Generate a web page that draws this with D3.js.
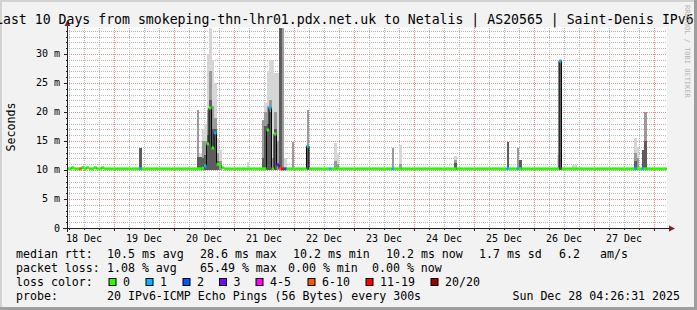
<!DOCTYPE html>
<html><head><meta charset="utf-8">
<script src="https://cdn.jsdelivr.net/npm/d3@7"></script>
<style>
html,body{margin:0;padding:0;background:#f2f2f2;}
svg{display:block;}
text{font-family:"DejaVu Sans Mono",monospace;fill:#000;}
</style></head><body>
<svg id="chart" width="697" height="310"></svg>
<script>
// ---------------- data ----------------
const chartTitle = "Last 10 Days from smokeping-thn-lhr01.pdx.net.uk to Netalis | AS20565 | Saint-Denis IPv6";
const yAxisTitle = "Seconds";
const watermark = "RRDTOOL / TOBI OETIKER";
const timeStart = "2025-12-18T05:12:00Z";
const timeEnd   = "2025-12-28T05:12:00Z";
const binOrigin = "2025-12-18T00:00:00Z";   // hourly RRD bins counted from here
const dayLabels = ["18 Dec","19 Dec","20 Dec","21 Dec","22 Dec","23 Dec","24 Dec","25 Dec","26 Dec","27 Dec"];
const yTickValues = [0, 5, 10, 15, 20, 25, 30];
const yTickLabels = ["0", "5 m", "10 m", "15 m", "20 m", "25 m", "30 m"];
const yMax = 34.48;

const baselineMedian = 10.2;   // ms, median rtt outside the listed bins
// hourly bins that differ from the baseline (hour index since binOrigin)
const binHour   = [7, 11, 10, 13, 16, 19, 34, 57, 58, 59, 60, 61, 62, 63, 64, 65, 66, 67, 77, 83, 84, 85, 86, 87, 88, 89, 90, 91, 92, 95, 101, 110, 112, 113, 135, 138, 160, 181, 185, 186, 201, 202, 207, 208, 232, 233, 235, 236];
const binMedian = [10.4, 10.4, 10.2, 10.4, 10.4, 10.4, 10.2, 10.2, 10.2, 10.3, 10.7, 14.5, 20.7, 13.8, 16.4, 11.0, 10.8, 10.4, 10.2, 10.2, 10.2, 16.9, 20.7, 10.2, 16.2, 10.9, 10.2, 10.2, 10.2, 10.2, 14.1, 10.2, 10.2, 10.2, 10.2, 10.2, 10.2, 10.2, 10.2, 10.2, 10.2, 28.8, 10.2, 10.2, 10.2, 10.2, 10.2, 10.2];
const binLoss   = [0, 0, 7, 0, 0, 0, 1, 0, 0, 0, 1, 0, 0, 0, 1, 0, 0, 0, 0, 0, 0, 0, 1, 0, 0, 3, 8, 15, 2, 0, 1, 1, 0, 0, 1, 0, 0, 1, 1, 0, 0, 1, 0, 0, 1, 0, 1, 0];
// smoke (spread of the 20 pings): outer max, middle band top, inner band top (ms)
const smokeMax  = [0, 0, 0, 0, 0, 0, 13.8, 20.3, 12.8, 17.0, 18.0, 30.0, 34.5, 29.0, 25.0, 15.5, 13.5, 0, 11.4, 18.6, 21.5, 27.0, 29.0, 29.0, 26.7, 26.7, 34.5, 34.5, 12.0, 14.9, 20.3, 0, 14.7, 13.0, 13.8, 14.3, 12.4, 14.9, 13.8, 11.7, 12.6, 28.8, 10.9, 10.9, 15.5, 14.0, 13.4, 20.0];
const smokeMid  = [0, 0, 0, 0, 0, 0, 13.8, 20.3, 12.3, 15.0, 15.0, 20.3, 27.0, 21.0, 19.0, 13.0, 11.5, 0, 0, 18.6, 20.0, 21.0, 22.0, 12.0, 20.0, 15.0, 34.5, 34.5, 0, 14.9, 20.3, 0, 11.5, 11.0, 13.8, 11.0, 11.8, 14.9, 13.8, 11.7, 0, 28.8, 0, 0, 13.0, 12.0, 13.4, 20.0];
const smokeDark = [0, 0, 0, 0, 0, 0, 13.8, 12.3, 12.3, 12.0, 12.5, 16.0, 22.0, 17.0, 17.0, 11.5, 0, 0, 0, 12.0, 17.5, 18.0, 20.0, 10.5, 17.0, 0, 34.5, 0, 0, 0, 14.1, 0, 0, 0, 0, 0, 11.2, 14.9, 0, 11.7, 0, 28.8, 0, 0, 11.5, 0, 13.4, 15.0];

const lossLabels  = ["0", "1", "2", "3", "4-5", "6-10", "11-19", "20/20"];
const lossLimits  = [0, 1, 2, 3, 5, 10, 19, 20];
const lossColors  = ["#26ff00", "#00b8ff", "#0059ff", "#7e00ff", "#ff00ff", "#ff5500", "#ff0000", "#a10000"];

const statsRtt  = ["median rtt:", "10.5 ms avg", "28.6 ms max", "10.2 ms min", "10.2 ms now", "1.7 ms sd", "6.2", "am/s"];
const statsLoss = ["packet loss:", "1.08 % avg", "65.49 % max", "0.00 % min", "0.00 % now"];
const lossTitle = "loss color:";
const probeInfo = ["probe:", "20 IPv6-ICMP Echo Pings (56 Bytes) every 300s"];
const stamp = "Sun Dec 28 04:26:31 2025";

// ---------------- drawing ----------------
const W = 697, H = 310;
const P = {left: 67, right: 667, top: 28, bottom: 228};
const svg = d3.select("#chart");

svg.append("rect").attr("width", W).attr("height", H).attr("fill", "#f2f2f2");
svg.append("rect").attr("x", 0).attr("y", 0).attr("width", W).attr("height", 2).attr("fill", "#d2d2d2");
svg.append("rect").attr("x", 0).attr("y", 0).attr("width", 2).attr("height", H).attr("fill", "#d2d2d2");
svg.append("rect").attr("x", W - 3).attr("y", 0).attr("width", 3).attr("height", H).attr("fill", "#9e9e9e");
svg.append("rect").attr("x", 0).attr("y", H - 3).attr("width", W).attr("height", 3).attr("fill", "#9e9e9e");

const x = d3.scaleUtc().domain([new Date(timeStart), new Date(timeEnd)]).range([P.left, P.right]);
const y = d3.scaleLinear().domain([0, yMax]).range([P.bottom, P.top]);

svg.append("rect").attr("x", P.left).attr("y", P.top - 1).attr("width", P.right - P.left).attr("height", P.bottom - P.top + 1).attr("fill", "#fff");

const grid = svg.append("g");
d3.range(1, Math.floor(yMax) + 1).filter(v => v % 5 !== 0).forEach(v => {
  const yy = Math.round(y(v)) + 0.5;
  grid.append("line").attr("x1", P.left).attr("x2", P.right).attr("y1", yy).attr("y2", yy)
    .attr("stroke", "#b8b8b8").attr("stroke-dasharray", "1,1");
});
const t0 = new Date(timeStart), t1 = new Date(timeEnd);
d3.utcHour.every(6).range(t0, t1).forEach(t => {
  if (t.getUTCHours() === 0) return;
  const xx = Math.round(x(t)) + 0.5;
  grid.append("line").attr("x1", xx).attr("x2", xx).attr("y1", P.top).attr("y2", P.bottom)
    .attr("stroke", "#b8b8b8").attr("stroke-dasharray", "1,1");
});
yTickValues.filter(v => v > 0).forEach(v => {
  const yy = Math.round(y(v)) + 0.5;
  grid.append("line").attr("x1", P.left).attr("x2", P.right).attr("y1", yy).attr("y2", yy)
    .attr("stroke", "#f08a8a").attr("stroke-dasharray", "1,1");
});
d3.utcDay.range(t0, t1).forEach(t => {
  const xx = Math.round(x(t)) + 0.5;
  grid.append("line").attr("x1", xx).attr("x2", xx).attr("y1", P.top).attr("y2", P.bottom)
    .attr("stroke", "#f08a8a").attr("stroke-dasharray", "1,1");
});

// ---- bins ----
const origin = new Date(binOrigin);
const hFirst = Math.floor((t0 - origin) / 3600000);
const hLast = Math.ceil((t1 - origin) / 3600000);
const idx = new Map(binHour.map((h, i) => [h, i]));
const bins = d3.range(hFirst, hLast).map(h => {
  const i = idx.get(h);
  const lossCount = i === undefined ? 0 : binLoss[i];
  return {
    t0: d3.utcHour.offset(origin, h), t1: d3.utcHour.offset(origin, h + 1),
    med: i === undefined ? baselineMedian : binMedian[i],
    cat: lossLimits.findIndex(l => lossCount <= l),
    max: i === undefined ? 0 : smokeMax[i],
    mid: i === undefined ? 0 : smokeMid[i],
    dark: i === undefined ? 0 : smokeDark[i]
  };
});

svg.append("clipPath").attr("id", "clip").append("rect")
  .attr("x", P.left).attr("y", P.top - 2).attr("width", P.right - P.left).attr("height", P.bottom - P.top + 2);
const g = svg.append("g").attr("clip-path", "url(#clip)");

const smokeBase = baselineMedian - 0.2;
[["max", "#d6d6d6"], ["mid", "#9a9a9a"], ["dark", "#5c5c5c"]].forEach(([k, col]) => {
  g.selectAll(null).data(bins.filter(b => b[k] > 0)).join("rect")
    .attr("x", b => x(b.t0)).attr("width", b => x(b.t1) - x(b.t0))
    .attr("y", b => y(Math.min(b[k], yMax)))
    .attr("height", b => y(smokeBase) - y(Math.min(b[k], yMax)))
    .attr("fill", col).attr("shape-rendering", "crispEdges");
});

const stepPts = [];
bins.forEach(b => { stepPts.push([x(b.t0), y(b.med)]); stepPts.push([x(b.t1), y(b.med)]); });
g.append("path").attr("d", d3.line()(stepPts)).attr("fill", "none").attr("stroke", "#000").attr("stroke-width", 1);

g.selectAll(null).data(bins).join("line")
  .attr("x1", b => x(b.t0)).attr("x2", b => x(b.t1))
  .attr("y1", b => y(b.med)).attr("y2", b => y(b.med))
  .attr("stroke", b => lossColors[b.cat]).attr("stroke-width", 3);

// ---- axes ----
const axisCol = "#1f1f1f", arrowCol = "#7f1f1f";
svg.append("line").attr("x1", P.left - 4).attr("x2", P.right + 3).attr("y1", P.bottom + 0.5).attr("y2", P.bottom + 0.5).attr("stroke", axisCol);
svg.append("line").attr("x1", P.left + 0.5).attr("x2", P.left + 0.5).attr("y1", P.bottom + 4).attr("y2", P.top - 3).attr("stroke", axisCol);
svg.append("path").attr("d", `M${P.left + 0.5},${P.top - 8} L${P.left - 2.5},${P.top - 2} L${P.left + 3.5},${P.top - 2} Z`).attr("fill", arrowCol);
svg.append("path").attr("d", `M${P.right + 8},${P.bottom + 0.5} L${P.right + 2},${P.bottom - 2.5} L${P.right + 2},${P.bottom + 3.5} Z`).attr("fill", arrowCol);

d3.range(0, Math.floor(yMax) + 1).forEach(v => {
  const yy = Math.round(y(v)) + 0.5;
  svg.append("line").attr("x1", P.left - (v % 5 === 0 ? 3 : 1)).attr("x2", P.left).attr("y1", yy).attr("y2", yy).attr("stroke", axisCol);
});
yTickValues.forEach((v, i) => {
  svg.append("text").attr("x", 60).attr("y", y(v) + 3.5).attr("text-anchor", "end")
    .attr("font-size", "10px").text(yTickLabels[i]);
});
d3.utcHour.every(6).range(t0, t1).forEach(t => {
  const xx = Math.round(x(t)) + 0.5;
  const major = t.getUTCHours() === 0;
  svg.append("line").attr("x1", xx).attr("x2", xx).attr("y1", P.bottom).attr("y2", P.bottom + (major ? 3 : 2)).attr("stroke", axisCol);
});
d3.utcDay.range(d3.utcDay.floor(t0), t1).forEach((d, i) => {
  const mid = d3.utcHour.offset(d, 12);
  svg.append("text").attr("x", x(mid)).attr("y", 241.5).attr("text-anchor", "middle")
    .attr("font-size", "10px").text(dayLabels[i]);
});

svg.append("text").attr("x", -5).attr("y", 24).attr("font-size", "13.2px").text(chartTitle);
svg.append("text").attr("transform", "translate(14.5,127) rotate(-90)").attr("text-anchor", "middle")
  .attr("font-size", "11.6px").text(yAxisTitle);
svg.append("text").attr("transform", "translate(685,5) rotate(90)").attr("font-size", "7px")
  .style("fill", "#b4b4b4").text(watermark);

// ---- legend ----
const fs = "11.6px";
const rttX = [16, 107, 200, 293, 386, 479, 559, 600];
statsRtt.forEach((s, i) => svg.append("text").attr("x", rttX[i]).attr("y", 258).attr("font-size", fs).text(s));
const lossX = [16, 107, 200, 288, 372];
statsLoss.forEach((s, i) => svg.append("text").attr("x", lossX[i]).attr("y", 272).attr("font-size", fs).text(s));
svg.append("text").attr("x", 16).attr("y", 286).attr("font-size", fs).text(lossTitle);
const boxX = [108.5, 145.5, 182.5, 219, 255.5, 307.5, 365.5, 430.5];
lossLabels.forEach((l, i) => {
  svg.append("rect").attr("x", boxX[i] + 0.5).attr("y", 278.5).attr("width", 7).attr("height", 7)
    .attr("fill", lossColors[i]).attr("stroke", "#000").attr("stroke-width", 1);
  svg.append("text").attr("x", boxX[i] + 14.5).attr("y", 286).attr("font-size", fs).text(l);
});
svg.append("text").attr("x", 16).attr("y", 300).attr("font-size", fs).text(probeInfo[0]);
svg.append("text").attr("x", 107).attr("y", 300).attr("font-size", fs).text(probeInfo[1]);
svg.append("text").attr("x", 680).attr("y", 300).attr("text-anchor", "end").attr("font-size", fs).text(stamp);
</script>
</body></html>
